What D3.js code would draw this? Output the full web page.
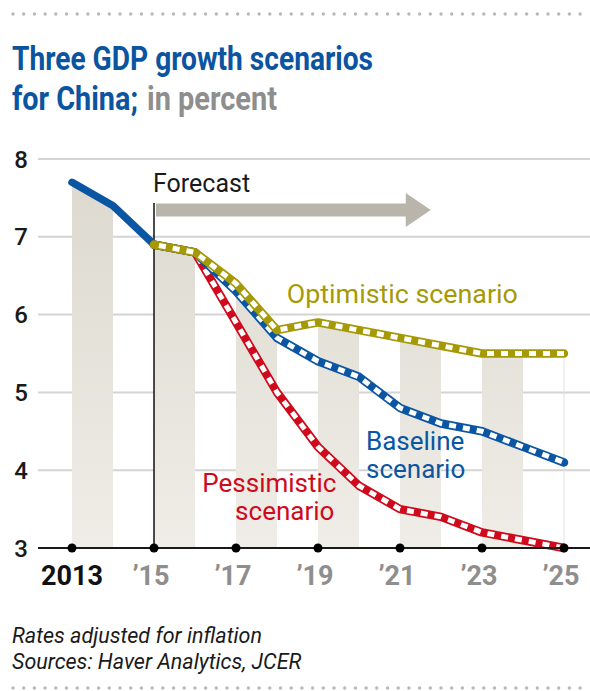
<!DOCTYPE html>
<html>
<head>
<meta charset="utf-8">
<script src="https://cdnjs.cloudflare.com/ajax/libs/d3/7.8.5/d3.min.js"></script>
<style>
    body { margin: 0; background: #fff; }
    svg { display: block; font-family: Roboto, "Noto Sans", sans-serif; }
</style>
</head>
<body>
<div id="chart"></div>
<script>

// data

var historyYears = [ 2013, 2014, 2015 ];
var historyValues = [ 7.7, 7.4, 6.9 ];

var forecastYears = [ 2015, 2016, 2017, 2018, 2019, 2020, 2021, 2022, 2023, 2024, 2025 ];
var optimistic = [ 6.9, 6.8, 6.4, 5.8, 5.9, 5.8, 5.7, 5.6, 5.5, 5.5, 5.5 ];
var baseline = [ 6.9, 6.8, 6.3, 5.7, 5.4, 5.2, 4.8, 4.6, 4.5, 4.3, 4.1 ];
var pessimistic = [ 6.9, 6.8, 5.9, 5.0, 4.3, 3.8, 3.5, 3.4, 3.2, 3.1, 3.0 ];

var yTicks = [ 3, 4, 5, 6, 7, 8 ];
var xTicks = [ 2013, 2015, 2017, 2019, 2021, 2023, 2025 ];
var xTickLabels = [ '2013', '\u201915', '\u201917', '\u201919', '\u201921', '\u201923', '\u201925' ];
var bandYears = [ 2013, 2015, 2017, 2019, 2021, 2023 ];

var width = 590,
    height = 691;

var x = d3.scaleLinear()
    .domain([ 2013, 2025 ])
    .range([ 72, 564 ]);

var y = d3.scaleLinear()
    .domain([ 3, 8 ])
    .range([ 548, 159 ]);

var svg = d3.select('#chart').append('svg')
    .attr('width', width)
    .attr('height', height);

/* gradient for bands */

var defs = svg.append('defs');

var grad = defs.append('linearGradient')
    .attr('id', 'bandGrad')
    .attr('gradientUnits', 'userSpaceOnUse')
    .attr('x1', 0).attr('x2', 0)
    .attr('y1', y(8)).attr('y2', y(3));

grad.append('stop').attr('offset', '0%').attr('stop-color', '#dcd8ce');
grad.append('stop').attr('offset', '100%').attr('stop-color', '#efede7');

// dotted rules

function dots ( yPos ) {

    var xs = d3.range( 13, width, 10.7 );

    svg.append('g').selectAll('circle')
        .data( xs )
        .enter().append('circle')
        .attr('cx', function (d) { return d })
        .attr('cy', yPos)
        .attr('r', 1.7)
        .style('fill', '#b8b8b8');

}

dots( 14 );
dots( 688 );

// title

svg.append('text')
    .attr('x', 12)
    .attr('y', 70)
    .attr('textLength', 361)
    .attr('lengthAdjust', 'spacingAndGlyphs')
    .style('font-size', '33px')
    .style('font-weight', 700)
    .style('fill', '#0b54a0')
    .text('Three GDP growth scenarios');

svg.append('text')
    .attr('x', 12)
    .attr('y', 110)
    .attr('textLength', 126)
    .attr('lengthAdjust', 'spacingAndGlyphs')
    .style('font-size', '33px')
    .style('font-weight', 700)
    .style('fill', '#0b54a0')
    .text('for China;');

svg.append('text')
    .attr('x', 147)
    .attr('y', 110)
    .attr('textLength', 130)
    .attr('lengthAdjust', 'spacingAndGlyphs')
    .style('font-size', '33px')
    .style('font-weight', 700)
    .style('fill', '#8e8e8e')
    .text('in percent');

// gridlines

svg.append('g').selectAll('line')
    .data( yTicks.filter( function (d) { return d > 3 } ) )
    .enter().append('line')
    .attr('x1', 38)
    .attr('x2', width)
    .attr('y1', function (d) { return y(d) })
    .attr('y2', function (d) { return y(d) })
    .style('stroke', '#d4d4d4')
    .style('stroke-width', 2);

// bands under the top line

var topYears = historyYears.concat( forecastYears.slice(1) );
var topValues = historyValues.concat( optimistic.slice(1) );

var area = d3.area()
    .x( function (d) { return x( d[0] ) })
    .y0( y(3) )
    .y1( function (d) { return y( d[1] ) });

svg.append('g').selectAll('path')
    .data( bandYears )
    .enter().append('path')
    .attr('d', function (yr) {
        var i = topYears.indexOf( yr );
        return area([ [ yr, topValues[i] ], [ yr + 1, topValues[i + 1] ] ]);
    })
    .style('fill', 'url(#bandGrad)');

// faint right edge

svg.append('line')
    .attr('x1', x(2025)).attr('x2', x(2025))
    .attr('y1', y( optimistic[ optimistic.length - 1 ] ))
    .attr('y2', y(3))
    .style('stroke', '#e2e2e2')
    .style('stroke-width', 1);

// y labels

svg.append('g').selectAll('text')
    .data( yTicks )
    .enter().append('text')
    .attr('x', 28)
    .attr('y', function (d) { return y(d) })
    .attr('dy', '0.36em')
    .attr('text-anchor', 'end')
    .style('font-size', '24px')
    .style('font-weight', 500)
    .style('fill', '#1a1a1a')
    .text( function (d) { return d });

// forecast marker

svg.append('line')
    .attr('x1', x(2015)).attr('x2', x(2015))
    .attr('y1', 203)
    .attr('y2', y(3))
    .style('stroke', '#111')
    .style('stroke-width', 1.5);

svg.append('text')
    .attr('x', x(2015) - 1)
    .attr('y', 192)
    .style('font-size', '25px')
    .style('fill', '#1a1a1a')
    .text('Forecast');

var ax0 = x(2015) + 2,
    ax1 = x(2021.75),
    ay = 210;

svg.append('path')
    .attr('d', 'M' + ax0 + ',' + (ay - 6.5) +
        'L' + (ax1 - 25) + ',' + (ay - 6.5) +
        'L' + (ax1 - 25) + ',' + (ay - 17) +
        'L' + ax1 + ',' + ay +
        'L' + (ax1 - 25) + ',' + (ay + 17) +
        'L' + (ax1 - 25) + ',' + (ay + 6.5) +
        'L' + ax0 + ',' + (ay + 6.5) + 'Z')
    .style('fill', '#b9b5ab');

// lines

var line = d3.line()
    .x( function (d) { return x( d[0] ) })
    .y( function (d) { return y( d[1] ) });

function pairs ( years, values ) {
    return years.map( function (yr, i) { return [ yr, values[i] ] });
}

svg.append('path')
    .attr('d', line( pairs( historyYears, historyValues ) ))
    .style('fill', 'none')
    .style('stroke', '#0b56a3')
    .style('stroke-width', 7.5)
    .style('stroke-linecap', 'round')
    .style('stroke-linejoin', 'round');

var scenarios = [
    { values: pessimistic, color: '#cf0a1c' },
    { values: baseline, color: '#0b56a3' },
    { values: optimistic, color: '#a59a06' }
];

scenarios.forEach( function (s) {

    var d = line( pairs( forecastYears, s.values ) );

    svg.append('path')
        .attr('d', d)
        .style('fill', 'none')
        .style('stroke', s.color)
        .style('stroke-width', 8.5)
        .style('stroke-linecap', 'round')
        .style('stroke-linejoin', 'round');

    svg.append('path')
        .attr('d', d)
        .style('fill', 'none')
        .style('stroke', '#fff')
        .style('stroke-width', 5)
        .style('stroke-dasharray', '7,7')
        .style('stroke-dashoffset', -5)
        .style('stroke-linejoin', 'round');

});

// axis

svg.append('line')
    .attr('x1', 38)
    .attr('x2', width)
    .attr('y1', y(3))
    .attr('y2', y(3))
    .style('stroke', '#1a1a1a')
    .style('stroke-width', 2);

svg.append('g').selectAll('circle')
    .data( xTicks )
    .enter().append('circle')
    .attr('cx', function (d) { return x(d) })
    .attr('cy', y(3))
    .attr('r', 4.5)
    .style('fill', '#000');

svg.append('g').selectAll('text')
    .data( xTicks )
    .enter().append('text')
    .attr('x', function (d, i) { return x(d) - ( i ? 3 : 0 ) })
    .attr('y', 585)
    .attr('text-anchor', 'middle')
    .style('font-size', '27px')
    .style('font-weight', 700)
    .style('fill', function (d, i) { return i ? '#8e8e8e' : '#111' })
    .text( function (d, i) { return xTickLabels[i] });

// scenario labels

svg.append('text')
    .attr('x', x(2018.24))
    .attr('y', y(6.15))
    .attr('textLength', 231)
    .attr('lengthAdjust', 'spacingAndGlyphs')
    .style('font-size', '26px')
    .style('fill', '#a59a06')
    .text('Optimistic scenario');

var baseLabel = svg.append('text')
    .style('font-size', '26px')
    .style('fill', '#0b56a3');

baseLabel.append('tspan').attr('x', x(2020.17)).attr('y', y(4.26)).text('Baseline');
baseLabel.append('tspan').attr('x', x(2020.17)).attr('y', y(3.9)).text('scenario');

var pessLabel = svg.append('text')
    .attr('text-anchor', 'end')
    .style('font-size', '26px')
    .style('fill', '#cf0a1c');

pessLabel.append('tspan').attr('x', x(2019.45)).attr('y', y(3.72)).text('Pessimistic');
pessLabel.append('tspan').attr('x', x(2019.4)).attr('y', y(3.36)).text('scenario');

// footer

svg.append('text')
    .attr('x', 12)
    .attr('y', 643)
    .style('font-size', '21.5px')
    .style('font-style', 'italic')
    .style('fill', '#1a1a1a')
    .text('Rates adjusted for inflation');

svg.append('text')
    .attr('x', 12)
    .attr('y', 669)
    .style('font-size', '21.5px')
    .style('font-style', 'italic')
    .style('fill', '#1a1a1a')
    .text('Sources: Haver Analytics, JCER');

</script>
</body>
</html>
